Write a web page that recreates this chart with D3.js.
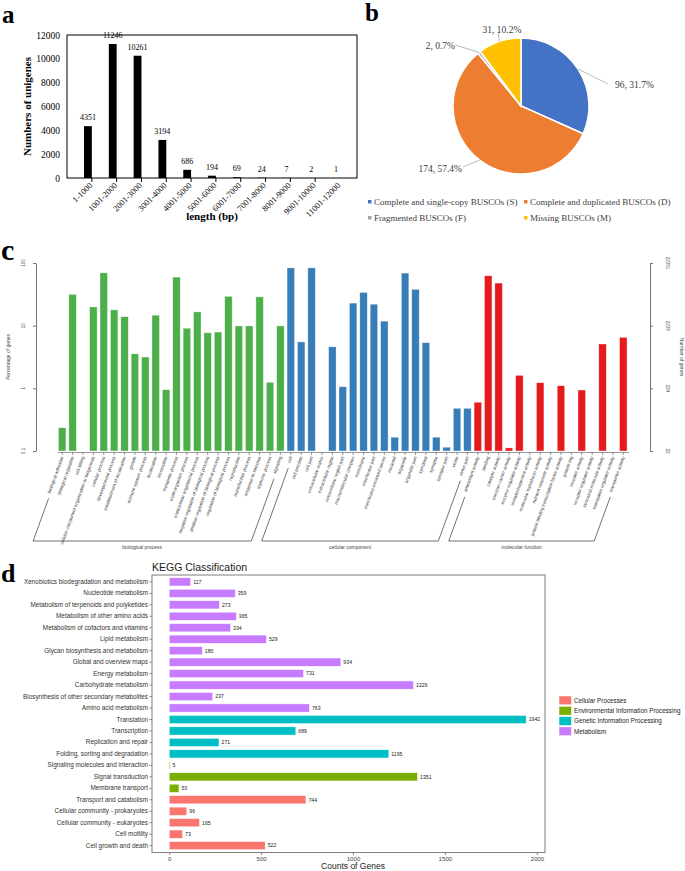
<!DOCTYPE html>
<html>
<head>
<meta charset="utf-8">
<script src="https://cdn.jsdelivr.net/npm/d3@7"></script>
<style>
  body { margin: 0; background: #fff; }
  svg { display: block; }
  .serif { font-family: "Liberation Serif", "Times New Roman", serif; }
  .sans { font-family: "Liberation Sans", Arial, sans-serif; }
</style>
</head>
<body>
<svg id="fig" width="685" height="871"></svg>
<script>
// ---- panel a : unigene length distribution
const lengthBins = ["1-1000", "1001-2000", "2001-3000", "3001-4000", "4001-5000", "5001-6000",
  "6001-7000", "7001-8000", "8001-9000", "9001-10000", "11001-12000"];
const unigeneCounts = [4351, 11246, 10261, 3194, 686, 194, 69, 24, 7, 2, 1];
const unigeneTicks = [0, 2000, 4000, 6000, 8000, 10000, 12000];

// ---- panel b : BUSCO
const buscoNames = ["Complete and single-copy BUSCOs (S)", "Complete and duplicated BUSCOs (D)",
  "Fragmented BUSCOs (F)", "Missing BUSCOs (M)"];
const buscoCounts = [96, 174, 2, 31];
const buscoPercent = ["31.7%", "57.4%", "0.7%", "10.2%"];
const buscoColors = ["#4472C4", "#ED7D31", "#A5A5A5", "#FFC000"];

// ---- panel c : GO (WEGO), percentage of genes
const goGroups = ["biological process", "cellular component", "molecular function"];
const goColors = ["#4daf4a", "#377eb8", "#e41a1c"];
const goBP = ["biological adhesion", "biological regulation", "cell killing",
  "cellular component organization or biogenesis", "cellular process", "developmental process",
  "establishment of localization", "growth", "immune system process", "localization", "locomotion",
  "metabolic process", "multi-organism process", "multicellular organismal process",
  "negative regulation of biological process", "positive regulation of biological process",
  "regulation of biological process", "reproduction", "reproductive process", "response to stimulus",
  "rhythmic process", "signaling"];
const goBPValues = [0.235, 31.6, 0, 19.9, 69.7, 17.9, 13.9, 3.55, 3.16, 14.7, 0.95, 59.6, 9.1, 16.6,
  7.7, 7.9, 29.4, 9.9, 9.9, 28.8, 1.25, 9.9];
const goCC = ["cell", "cell junction", "cell part", "extracellular matrix", "extracellular region",
  "extracellular region part", "macromolecular complex", "membrane", "membrane part",
  "membrane-enclosed lumen", "nucleoid", "organelle", "organelle part", "symplast", "synapse",
  "synapse part", "virion", "virion part"];
const goCCValues = [83.6, 5.5, 83.6, 0, 4.6, 1.06, 22.9, 33.9, 22, 11.8, 0.166, 69, 38, 5.35, 0.166,
  0.115, 0.48, 0.48];
const goMF = ["antioxidant activity", "binding", "catalytic activity", "electron carrier activity",
  "enzyme regulator activity", "metallochaperone activity", "molecular transducer activity",
  "nutrient reservoir activity", "protein binding transcription factor activity", "protein tag",
  "receptor activity", "receptor regulator activity", "structural molecule activity",
  "translation regulator activity", "transporter activity"];
const goMFValues = [0.6, 62.5, 47.8, 0.112, 1.61, 0, 1.23, 0, 1.1, 0, 0.94, 0, 5.1, 0, 6.5];
const goPercentTicks = [0.1, 1, 10, 100];
const goCountTicks = ["22", "224", "2238", "22381"];

// ---- panel d : KEGG
const keggTerms = ["Xenobiotics biodegradation and metabolism", "Nucleotide metabolism",
  "Metabolism of terpenoids and polyketides", "Metabolism of other amino acids",
  "Metabolism of cofactors and vitamins", "Lipid metabolism", "Glycan biosynthesis and metabolism",
  "Global and overview maps", "Energy metabolism", "Carbohydrate metabolism",
  "Biosynthesis of other secondary metabolites", "Amino acid metabolism", "Translation",
  "Transcription", "Replication and repair", "Folding, sorting and degradation",
  "Signaling molecules and interaction", "Signal transduction", "Membrane transport",
  "Transport and catabolism", "Cellular community - prokaryotes", "Cellular community - eukaryotes",
  "Cell motility", "Cell growth and death"];
const keggCounts = [117, 359, 273, 365, 334, 529, 180, 934, 731, 1329, 237, 763, 1942, 689, 271, 1195,
  5, 1351, 53, 744, 96, 165, 73, 522];
const keggClassOf = ["M", "M", "M", "M", "M", "M", "M", "M", "M", "M", "M", "M", "G", "G", "G", "G",
  "E", "E", "E", "C", "C", "C", "C", "C"];
const keggClasses = ["C", "E", "G", "M"];
const keggClassNames = ["Cellular Processes", "Environmental Information Processing",
  "Genetic Information Processing", "Metabolism"];
const keggColors = ["#F8766D", "#7CAE00", "#00BFC4", "#C77CFF"];
const keggTicks = [0, 500, 1000, 1500, 2000];

const svg = d3.select("#fig");

function letter(t, x, y, size) {
  svg.append("text").attr("class", "serif").attr("x", x).attr("y", y)
    .attr("font-size", size).attr("font-weight", "bold").text(t);
}

// ================= panel a =================
(function () {
  const left = 67, right = 357, top = 35, bottom = 178;
  const g = svg.append("g").attr("class", "serif");
  const x = d3.scaleBand().domain(lengthBins).range([left, right]).padding(0.685);
  const y = d3.scaleLinear().domain([0, 12000]).range([bottom, top]);

  g.append("rect").attr("x", left).attr("y", top).attr("width", right - left)
    .attr("height", bottom - top).attr("fill", "none").attr("stroke", "#000").attr("stroke-width", 1);

  const ya = g.append("g").attr("transform", `translate(${left},0)`)
    .call(d3.axisLeft(y).tickValues(unigeneTicks).tickFormat(d3.format("d")).tickSize(0).tickPadding(7));
  ya.select(".domain").remove();
  ya.selectAll("text").attr("font-size", 9.5).attr("font-family", "Liberation Serif").attr("fill", "#000");

  // tick marks at the band boundaries
  const bounds = lengthBins.map((d) => x(d) - x.step() * x.paddingOuter()).slice(1);
  g.selectAll(".xt").data(bounds).enter().append("line")
    .attr("x1", (d) => d).attr("x2", (d) => d).attr("y1", bottom).attr("y2", bottom + 4)
    .attr("stroke", "#000");

  g.selectAll(".bar").data(unigeneCounts).enter().append("rect")
    .attr("x", (d, i) => x(lengthBins[i])).attr("width", x.bandwidth())
    .attr("y", (d) => y(d)).attr("height", (d) => bottom - y(d)).attr("fill", "#000");

  g.selectAll(".val").data(unigeneCounts).enter().append("text")
    .attr("x", (d, i) => x(lengthBins[i]) + x.bandwidth() / 2).attr("y", (d) => y(d) - 6)
    .attr("text-anchor", "middle").attr("font-size", 8).attr("fill", "#000").text((d) => d);

  g.selectAll(".xl").data(lengthBins).enter().append("text")
    .attr("transform", (d) => `translate(${x(d) + x.bandwidth() / 2 + 5},${bottom + 8}) rotate(-45)`)
    .attr("text-anchor", "end").attr("font-size", 8.5).attr("fill", "#000").text((d) => d);

  g.append("text").attr("transform", `translate(31,${(top + bottom) / 2}) rotate(-90)`)
    .attr("text-anchor", "middle").attr("font-size", 11).attr("font-weight", "bold")
    .text("Numbers of unigenes");
  g.append("text").attr("x", 212).attr("y", 220).attr("text-anchor", "middle")
    .attr("font-size", 11).attr("font-weight", "bold").text("length (bp)");
  letter("a", 2, 23, 25);
})();

// ================= panel b =================
(function () {
  const cxp = 521, cyp = 106, r = 68;
  const g = svg.append("g").attr("class", "serif");
  const pie = d3.pie().sort(null)(buscoCounts);
  const arc = d3.arc().innerRadius(0).outerRadius(r);
  const pg = g.append("g").attr("transform", `translate(${cxp},${cyp})`);
  pg.selectAll("path").data(pie).enter().append("path")
    .attr("d", arc).attr("fill", (d, i) => buscoColors[i])
    .attr("stroke", "#fff").attr("stroke-width", 1.5);

  // leader lines and labels (label spots placed by hand, like the original)
  const spots = [
    { dx: 87, dy: -22, tx: 94, ty: -21, anchor: "start" },
    { dx: -58, dy: 61, tx: -59, ty: 63, anchor: "end" },
    { dx: -66, dy: -61, tx: -66, ty: -60, anchor: "end" },
    { dx: -23, dy: -74, tx: -19, ty: -76, anchor: "middle" }
  ];
  pie.forEach((d, i) => {
    const a = (d.startAngle + d.endAngle) / 2;
    const px = Math.sin(a) * r, py = -Math.cos(a) * r;
    const s = spots[i];
    pg.append("line").attr("x1", px).attr("y1", py).attr("x2", s.dx).attr("y2", s.dy)
      .attr("stroke", "#a6a6a6").attr("stroke-width", 0.8);
    pg.append("text").attr("x", s.tx).attr("y", s.ty).attr("dy", "0.35em")
      .attr("text-anchor", s.anchor).attr("font-size", 9.5).attr("fill", "#404040")
      .text(buscoCounts[i] + ", " + buscoPercent[i]);
  });

  const lx = [368, 524], ly = [202, 218];
  buscoNames.forEach((n, i) => {
    const xx = lx[i % 2], yy = ly[Math.floor(i / 2)];
    g.append("rect").attr("x", xx).attr("y", yy - 2).attr("width", 3.5).attr("height", 3.5)
      .attr("fill", buscoColors[i]);
    g.append("text").attr("x", xx + 6).attr("y", yy).attr("dy", "0.35em")
      .attr("font-size", 9).attr("fill", "#404040").text(n);
  });
  letter("b", 365, 21, 25);
})();

// ================= panel c =================
(function () {
  const g = svg.append("g").attr("class", "sans");
  const terms = goBP.concat(goCC, goMF);
  const values = goBPValues.concat(goCCValues, goMFValues);
  const groupOf = goBP.map(() => 0).concat(goCC.map(() => 1), goMF.map(() => 2));
  const rows = terms.map((t, i) => ({ t, v: values[i], grp: groupOf[i] }));
  const x = d3.scaleBand().domain(terms).range([57, 628.5]).paddingInner(0.28).paddingOuter(0.14);
  const y = d3.scaleLog().domain([0.1, 100]).range([451, 263]);
  const base = 451;

  g.selectAll("rect.gobar").data(rows.filter((d) => d.v > 0))
    .enter().append("rect").attr("class", "gobar")
    .attr("x", (d) => x(d.t)).attr("width", x.bandwidth())
    .attr("y", (d) => y(d.v)).attr("height", (d) => base - y(d.v))
    .attr("fill", (d) => goColors[d.grp]).attr("stroke", "#ffffff").attr("stroke-opacity", 0.6)
    .attr("stroke-width", 0.6);

  // left axis
  const la = g.append("g").attr("transform", "translate(36,0)")
    .call(d3.axisLeft(y).tickValues(goPercentTicks).tickFormat("").tickSize(3).tickSizeOuter(0));
  la.selectAll("path,line").attr("stroke", "#777");
  goPercentTicks.forEach((t) => {
    g.append("text").attr("transform", `translate(25,${y(t)}) rotate(-90)`)
      .attr("text-anchor", "middle").attr("font-size", 4.5).attr("fill", "#555").text(t);
  });
  g.append("text").attr("transform", `translate(10,357) rotate(-90)`)
    .attr("text-anchor", "middle").attr("font-size", 5).attr("fill", "#444").text("Percentage of genes");

  // right axis
  const ra = g.append("g").attr("transform", "translate(650,0)")
    .call(d3.axisRight(y).tickValues(goPercentTicks).tickFormat("").tickSize(3).tickSizeOuter(0));
  ra.selectAll("path,line").attr("stroke", "#777");
  goPercentTicks.forEach((t, i) => {
    g.append("text").attr("transform", `translate(666,${y(t)}) rotate(90)`)
      .attr("text-anchor", "middle").attr("font-size", 4.5).attr("fill", "#555").text(goCountTicks[i]);
  });
  g.append("text").attr("transform", `translate(680,357) rotate(90)`)
    .attr("text-anchor", "middle").attr("font-size", 5).attr("fill", "#444").text("Number of genes");

  // bottom ticks and term labels
  const ba = g.append("g").attr("transform", `translate(0,${base + 1})`)
    .call(d3.axisBottom(x).tickSize(3).tickSizeOuter(0).tickFormat(""));
  ba.selectAll("path,line").attr("stroke", "#555").attr("stroke-width", 0.6);

  const ang = 70, rad = ang * Math.PI / 180;
  const y0 = base + 6;
  const labels = g.selectAll(".gol").data(terms).enter().append("text")
    .attr("transform", (d) => `translate(${x(d) + x.bandwidth() / 2 + 1.5},${y0}) rotate(${-ang})`)
    .attr("text-anchor", "end").attr("font-size", 4.6).attr("fill", "#444").text((d) => d);

  // group brackets, following the label direction
  const yb = 541;
  const lens = labels.nodes().map((n) => n.getComputedTextLength());
  goGroups.forEach((name, gi) => {
    const idx = terms.map((t, i) => i).filter((i) => groupOf[i] === gi);
    const f = idx[0], l = idx[idx.length - 1];
    const cxf = x(terms[f]) + x.bandwidth() / 2 + 1.5, cxl = x(terms[l]) + x.bandwidth() / 2 + 1.5;
    const topF = y0 + (lens[f] + 5) * Math.sin(rad), topL = y0 + (lens[l] + 5) * Math.sin(rad);
    const k = Math.cos(rad) / Math.sin(rad);
    const bxf = cxf - (yb - y0) * k, bxl = cxl - (yb - y0) * k;
    const pts = [[cxf - (topF - y0) * k, topF], [bxf, yb], [bxl, yb], [cxl - (topL - y0) * k, topL]];
    g.append("path").attr("d", d3.line()(pts)).attr("fill", "none")
      .attr("stroke", "#333").attr("stroke-width", 0.7);
    g.append("text").attr("x", (bxf + bxl) / 2).attr("y", yb + 8).attr("text-anchor", "middle")
      .attr("font-size", 5).attr("fill", "#444").text(name);
  });
  letter("c", 1, 260, 30);
})();

// ================= panel d =================
(function () {
  const left = 152, right = 545, top = 575, bottom = 852.5;
  const g = svg.append("g").attr("class", "sans");
  const x = d3.scaleLinear().domain([0, 2000]).range([169.2, 536.8]);
  const y = d3.scaleBand().domain(keggTerms).range([top, bottom]).paddingInner(0.28).paddingOuter(0.24);
  const color = d3.scaleOrdinal().domain(keggClasses).range(keggColors);

  g.append("text").attr("x", left).attr("y", 571).attr("font-size", 10.5).attr("fill", "#222")
    .text("KEGG Classification");

  g.selectAll(".kb").data(keggCounts).enter().append("rect")
    .attr("x", x(0)).attr("y", (d, i) => y(keggTerms[i]))
    .attr("width", (d) => x(d) - x(0)).attr("height", y.bandwidth())
    .attr("fill", (d, i) => color(keggClassOf[i])).attr("stroke", "#fff").attr("stroke-width", 0.5);

  g.selectAll(".kv").data(keggCounts).enter().append("text")
    .attr("x", (d) => x(d) + 2.5).attr("y", (d, i) => y(keggTerms[i]) + y.bandwidth() / 2)
    .attr("dy", "0.35em").attr("font-size", 5.2).attr("fill", "#222").text((d) => d);

  const ya = g.append("g").attr("transform", `translate(${left},0)`)
    .call(d3.axisLeft(y).tickSize(2.5).tickPadding(1.5).tickSizeOuter(0));
  ya.select(".domain").remove();
  ya.selectAll("line").attr("stroke", "#333").attr("stroke-width", 0.6);
  ya.selectAll("text").attr("font-size", 6.4).attr("fill", "#333").attr("font-family", "Liberation Sans");

  const xa = g.append("g").attr("transform", `translate(0,${bottom})`)
    .call(d3.axisBottom(x).tickValues(keggTicks).tickFormat(d3.format("d")).tickSize(2.5).tickPadding(1.5).tickSizeOuter(0));
  xa.select(".domain").remove();
  xa.selectAll("line").attr("stroke", "#333").attr("stroke-width", 0.6);
  xa.selectAll("text").attr("font-size", 6.1).attr("fill", "#444").attr("font-family", "Liberation Sans");

  g.append("rect").attr("x", left).attr("y", top).attr("width", right - left).attr("height", bottom - top)
    .attr("fill", "none").attr("stroke", "#7f7f7f").attr("stroke-width", 1);

  g.append("text").attr("x", (x(0) + x(2000)) / 2).attr("y", 869).attr("text-anchor", "middle")
    .attr("font-size", 8.5).attr("fill", "#222").text("Counts of Genes");

  keggClassNames.forEach((n, i) => {
    const yy = 696 + i * 10.3;
    g.append("rect").attr("x", 559).attr("y", yy).attr("width", 12.5).attr("height", 8.8)
      .attr("fill", keggColors[i]).attr("stroke", "#fff").attr("stroke-width", 0.5);
    g.append("text").attr("x", 574).attr("y", yy + 4.4).attr("dy", "0.35em")
      .attr("font-size", 6.3).attr("fill", "#222").text(n);
  });
  letter("d", 1, 582, 26);
})();
</script>
</body>
</html>
